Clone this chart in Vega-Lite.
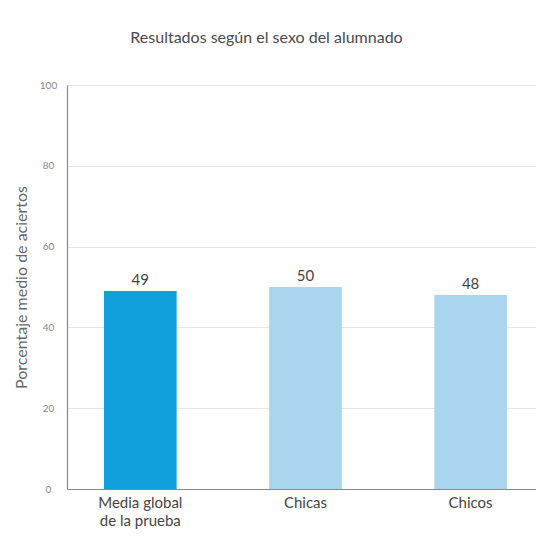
{
  "$schema": "https://vega.github.io/schema/vega-lite/v6.json",
  "width": 469,
  "height": 404,
  "autosize": "none",
  "padding": {"left": 67, "top": 85, "right": 0, "bottom": 55},
  "background": "white",
  "title": {
    "text": "Resultados según el sexo del alumnado",
    "anchor": "middle",
    "dx": -35,
    "offset": 34,
    "font": "Lato",
    "fontSize": 16,
    "fontWeight": "normal",
    "color": "#4a4a4a"
  },
  "data": {
    "values": [
      {"grupo": "Media global|de la prueba", "valor": 49, "tipo": "global"},
      {"grupo": "Chicas", "valor": 50, "tipo": "sexo"},
      {"grupo": "Chicos", "valor": 48, "tipo": "sexo"}
    ]
  },
  "encoding": {
    "x": {
      "field": "grupo",
      "type": "nominal",
      "sort": null,
      "scale": {"paddingInner": 0.56, "paddingOuter": 0.2, "align": 0.56},
      "axis": {
        "title": null,
        "labelAngle": 0,
        "labelExpr": "split(datum.value, '|')",
        "labelFont": "Lato",
        "labelFontSize": 15,
        "labelColor": "#444444",
        "labelPadding": 6,
        "labelLineHeight": 18,
        "labelBaseline": "top",
        "ticks": false,
        "domainColor": "#888888",
        "domainWidth": 1.2
      }
    },
    "y": {
      "field": "valor",
      "type": "quantitative",
      "scale": {"domain": [0, 100]},
      "axis": {
        "title": "Porcentaje medio de aciertos",
        "titleFont": "Lato",
        "titleFontSize": 16,
        "titleFontWeight": "normal",
        "titleColor": "#666666",
        "titlePadding": 10,
        "values": [0, 20, 40, 60, 80, 100],
        "labelFont": "Lato",
        "labelFontSize": 10,
        "labelColor": "#888888",
        "labelAlign": "center",
        "labelPadding": 19,
        "ticks": false,
        "grid": true,
        "gridColor": "#e6e6e6",
        "domainColor": "#888888",
        "domainWidth": 1.2
      }
    }
  },
  "layer": [
    {
      "mark": {"type": "bar"},
      "encoding": {
        "color": {
          "field": "tipo",
          "type": "nominal",
          "scale": {"domain": ["global", "sexo"], "range": ["#12a0dc", "#a9d5ef"]},
          "legend": null
        }
      }
    },
    {
      "mark": {"type": "text", "baseline": "bottom", "dy": -3, "font": "Lato", "fontSize": 15, "color": "#444444"},
      "encoding": {"text": {"field": "valor", "type": "quantitative"}}
    }
  ],
  "config": {"view": {"stroke": null}}
}
